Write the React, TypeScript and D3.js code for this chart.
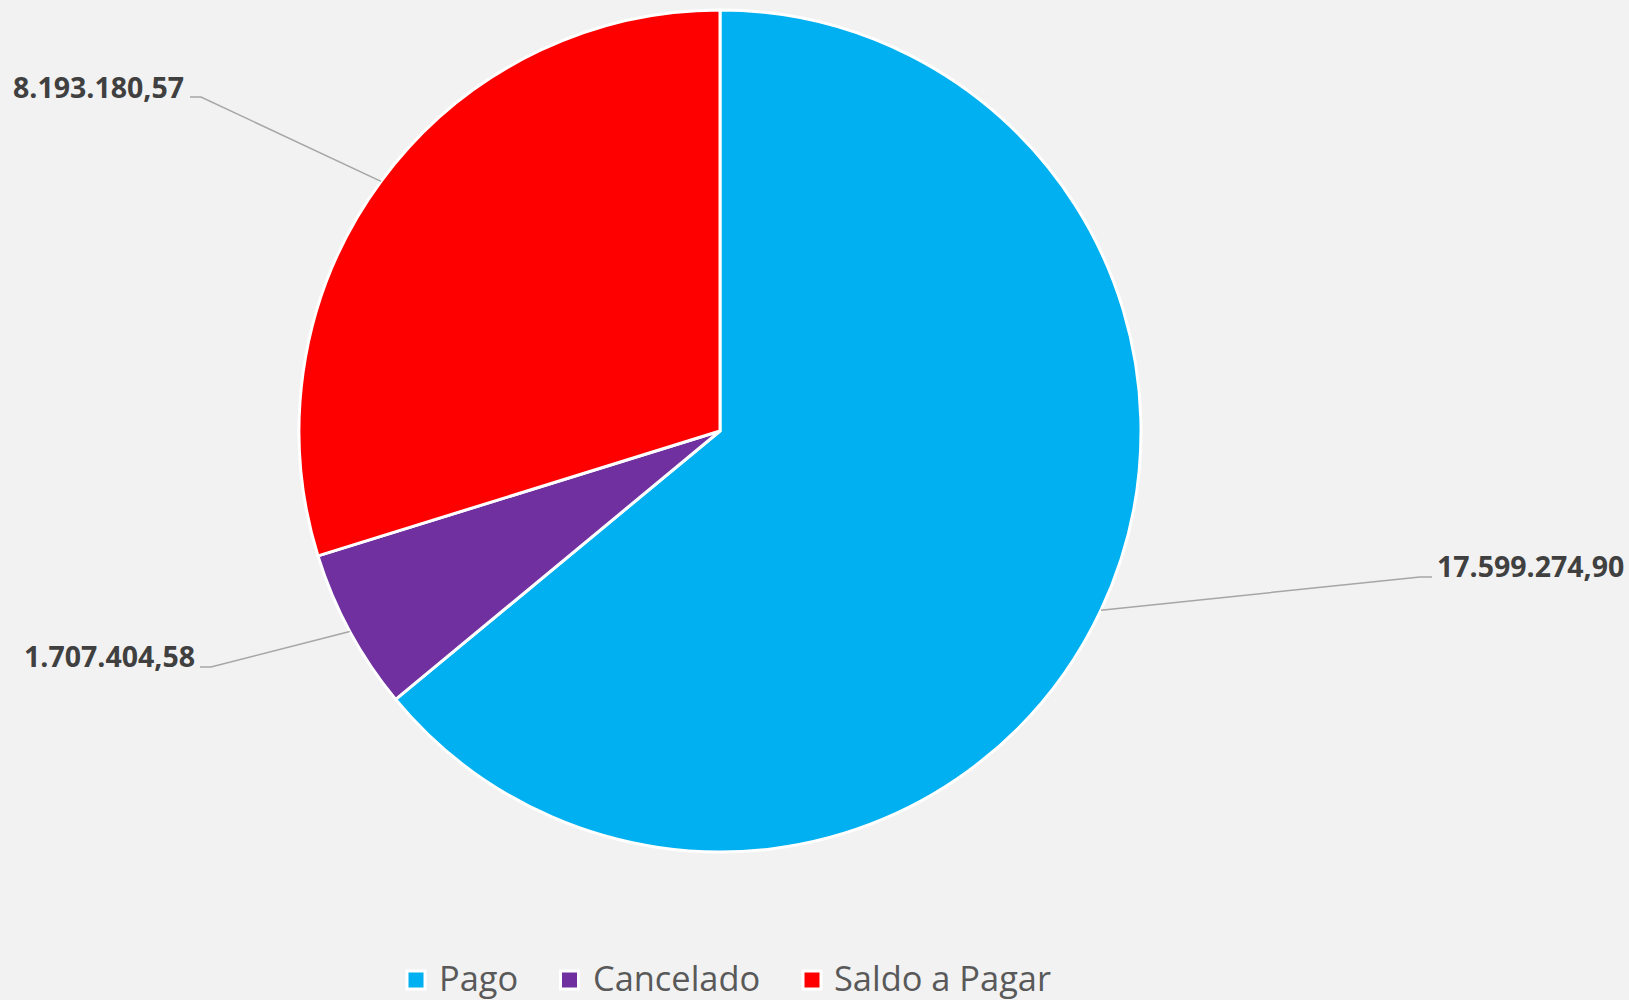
import React from "react";
import * as d3 from "d3";

const categories = ["Pago", "Cancelado", "Saldo a Pagar"];
const values = [17599274.9, 1707404.58, 8193180.57];
const labels = ["17.599.274,90", "1.707.404,58", "8.193.180,57"];
const colors = ["#00B0F0", "#7030A0", "#FF0000"];

// layout for data labels (elbow point, horizontal stub end, text anchor point)
const labelLayout = [
  { bx: 1420, by: 577, ex: 1432, tx: 1437, ty: 577, anchor: "start" },
  { bx: 211, by: 667, ex: 200, tx: 195, ty: 667, anchor: "end" },
  { bx: 201, by: 97, ex: 190, tx: 184, ty: 98, anchor: "end" },
];

const legendLayout = [
  { sx: 407, tx: 439 },
  { sx: 560.5, tx: 593 },
  { sx: 803, tx: 834 },
];

const W = 1629;
const H = 1000;
const cx = 720;
const cy = 431;
const R = 421;
const FONT = "'Open Sans', 'Noto Sans', sans-serif";

export default function App() {
  const pie = d3.pie<number>().sort(null).value((d) => d)(values);
  const arc = d3.arc<d3.PieArcDatum<number>>().innerRadius(0).outerRadius(R);

  return (
    <div style={{ position: "fixed", left: 0, top: 0 }}>
      <svg width={W} height={H} style={{ display: "block" }}>
        <rect x={0} y={0} width={W} height={H} fill="#F2F2F2" />
        <g transform={`translate(${cx},${cy})`}>
          {pie.map((p, i) => (
            <path
              key={i}
              d={arc(p) || ""}
              fill={colors[i]}
              stroke="#FFFFFF"
              strokeWidth={3}
              strokeLinejoin="round"
            />
          ))}
        </g>
        {pie.map((p, i) => {
          const mid = (p.startAngle + p.endAngle) / 2;
          const sx = cx + R * Math.sin(mid);
          const sy = cy - R * Math.cos(mid);
          const L = labelLayout[i];
          return (
            <g key={"l" + i}>
              <polyline
                points={`${sx},${sy} ${L.bx},${L.by} ${L.ex},${L.by}`}
                fill="none"
                stroke="#A6A6A6"
                strokeWidth={1.5}
              />
              <text
                x={L.tx}
                y={L.ty}
                textAnchor={L.anchor as any}
                fontFamily={FONT}
                fontWeight={700}
                fontSize={28.5}
                fill="#404040"
              >
                {labels[i]}
              </text>
            </g>
          );
        })}
        {categories.map((c, i) => {
          const L = legendLayout[i];
          return (
            <g key={"g" + i}>
              <rect
                x={L.sx}
                y={971}
                width={18}
                height={18}
                fill={colors[i]}
                stroke="#FFFFFF"
                strokeWidth={3}
              />
              <text
                x={L.tx}
                y={991}
                fontFamily={FONT}
                fontSize={34.4}
                fill="#595959"
              >
                {c}
              </text>
            </g>
          );
        })}
      </svg>
    </div>
  );
}
